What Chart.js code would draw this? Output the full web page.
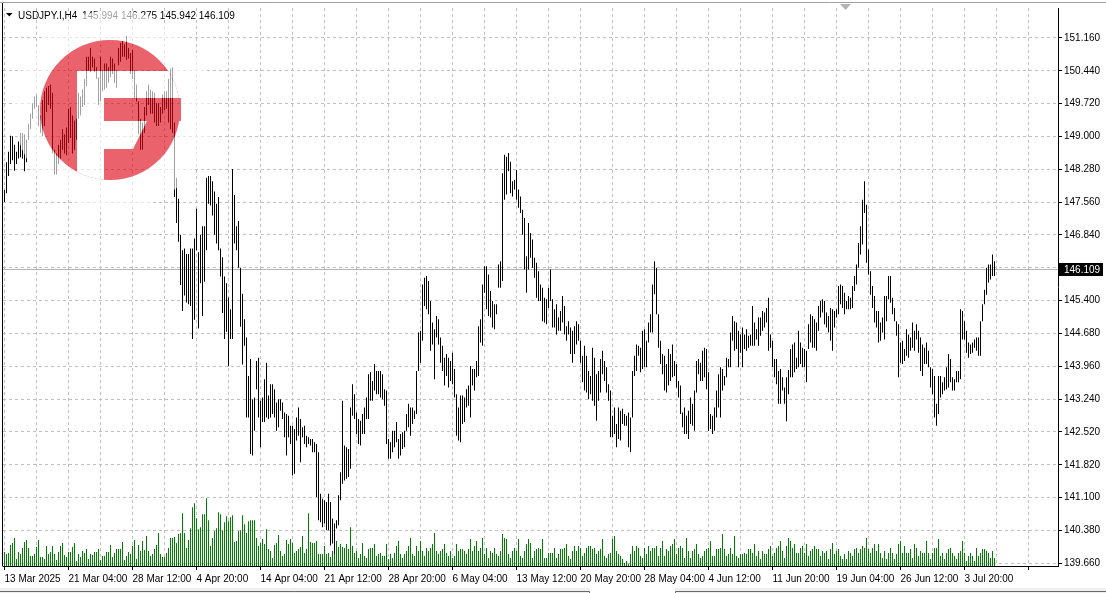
<!DOCTYPE html>
<html>
<head>
<meta charset="utf-8">
<title>USDJPY.I,H4</title>
<script src="https://cdn.jsdelivr.net/npm/chart.js@4.4.1/dist/chart.umd.min.js"></script>
<style>
  html, body { margin: 0; padding: 0; background: #fff; overflow: hidden; }
  #wrap { width: 1106px; height: 593px; }
</style>
</head>
<body>
<div id="wrap"><canvas id="chart" width="1106" height="593"></canvas></div>
<script>
/* ─── USDJPY.I H4 — bar chart with tick volumes (MT4 style) ─── */

// ─── Data ───
const symbol = 'USDJPY.I,H4';
const lastBar = { open: 145.994, high: 146.275, low: 145.942, close: 146.109 };

const xTickLabels = ['13 Mar 2025', '21 Mar 04:00', '28 Mar 12:00', '4 Apr 20:00', '14 Apr 04:00', '21 Apr 12:00',
  '28 Apr 20:00', '6 May 04:00', '13 May 12:00', '20 May 20:00', '28 May 04:00', '4 Jun 12:00',
  '11 Jun 20:00', '19 Jun 04:00', '26 Jun 12:00', '3 Jul 20:00'];
const barsPerLabel = 32;
const barsPerGrid = 16;

const yTickStart = 139.66;
const yTickStep = 0.71875;
const yTickLabels = ['139.660', '140.380', '141.100', '141.820', '142.520', '143.240', '143.960', '144.680',
  '145.400', '', '146.840', '147.560', '148.280', '149.000', '149.720', '150.440', '151.160'];

const highs = [
  147.83,148.44,148.67,149.02,149.01,148.82,148.67,148.89,149.08,149.08,
  149.05,148.93,149.27,149.50,149.73,149.88,149.92,149.69,149.46,149.80,
  149.99,150.07,150.11,150.14,149.96,148.71,148.63,148.82,148.93,149.16,
  149.05,149.20,149.61,149.65,149.46,149.35,149.39,149.96,149.88,150.03,
  150.26,150.75,150.75,150.94,150.75,150.71,150.52,150.30,150.75,150.45,
  150.60,150.60,150.52,150.75,150.71,150.60,150.45,150.94,151.05,151.09,
  151.02,151.21,150.94,150.83,150.90,150.45,150.14,149.77,149.39,149.31,
  149.65,149.99,150.14,150.03,149.99,149.96,149.73,149.73,149.65,149.92,
  149.99,149.99,150.26,150.49,150.52,149.31,148.10,147.64,146.85,146.51,
  146.55,146.43,146.43,146.55,146.55,146.77,147.42,146.47,146.85,147.04,
  147.04,148.10,148.14,148.14,148.02,147.80,147.53,147.68,146.55,146.36,
  145.94,145.79,145.48,145.22,148.29,147.72,147.04,147.15,146.13,145.56,
  145.00,144.60,143.76,144.13,143.25,143.29,144.09,144.16,143.22,143.29,
  143.69,144.05,143.33,143.58,143.58,143.47,143.18,143.25,143.25,143.18,
  142.96,142.93,142.89,142.67,142.67,142.60,142.85,143.07,142.82,142.64,
  142.67,142.45,142.42,142.38,142.38,142.31,142.27,142.09,141.18,141.07,
  141.04,141.00,141.18,141.00,140.64,140.53,140.60,141.15,141.65,143.22,
  142.24,142.20,142.16,143.07,143.58,143.36,142.96,142.82,142.78,142.93,
  143.07,143.29,143.80,143.84,143.65,144.02,143.87,143.87,143.87,143.80,
  143.47,143.44,142.38,142.31,142.56,142.56,142.75,142.38,142.49,142.53,
  142.56,142.93,143.15,143.07,143.07,143.00,143.87,144.71,144.75,145.76,
  145.91,145.95,145.84,145.40,144.93,144.78,145.07,145.00,144.60,144.42,
  144.16,144.24,144.16,144.09,144.27,143.91,143.36,143.07,143.33,143.33,
  143.29,143.47,143.55,143.98,143.91,143.91,144.09,144.85,145.00,145.76,
  146.16,146.16,145.98,145.62,145.40,145.33,145.33,146.20,146.27,148.20,
  148.60,148.56,148.64,148.45,148.02,148.05,148.27,147.84,147.69,147.40,
  147.22,146.38,147.11,146.89,146.75,146.35,146.24,146.05,145.76,145.69,
  145.47,145.44,145.69,146.09,145.44,145.22,145.33,145.04,145.18,145.51,
  145.29,144.85,144.96,144.82,144.75,144.85,144.96,144.89,144.53,144.20,
  144.42,144.20,143.87,143.76,144.38,144.16,143.80,143.87,144.13,144.31,
  144.09,143.95,143.58,143.44,142.89,143.07,142.71,143.07,143.00,143.04,
  142.93,142.89,142.96,142.85,143.87,144.20,144.45,144.42,144.38,144.75,
  144.78,144.53,144.93,145.11,145.76,146.27,146.13,145.11,144.53,144.24,
  144.20,144.02,144.35,144.24,144.45,144.09,144.02,143.65,143.55,142.96,
  143.07,142.89,143.00,143.29,143.15,143.44,144.09,144.13,144.05,144.31,
  144.38,144.35,143.84,142.93,142.89,143.07,143.44,143.80,143.95,143.91,
  143.76,144.16,144.13,144.71,145.07,144.96,144.93,144.75,144.67,144.82,
  144.67,144.78,144.64,144.67,145.29,144.93,144.78,145.04,145.04,145.18,
  145.15,145.25,145.47,144.67,144.53,144.13,144.13,143.87,143.91,143.73,
  143.51,143.73,143.89,144.35,144.45,144.49,144.16,144.75,144.49,144.38,
  144.35,144.31,144.89,145.11,145.07,145.00,144.93,145.29,145.40,145.44,
  145.40,145.15,145.07,145.25,145.22,145.18,145.22,145.73,145.76,145.73,
  145.58,145.40,145.51,145.47,145.73,145.95,146.20,146.67,147.04,147.62,
  148.02,147.51,146.53,146.05,145.73,145.51,145.18,145.18,144.93,145.04,
  145.51,145.51,145.95,145.95,145.47,145.25,144.96,144.89,144.49,144.53,
  144.35,144.78,144.67,144.60,144.93,144.75,144.89,144.75,144.60,144.45,
  144.38,144.49,144.31,143.95,143.91,143.76,143.15,143.76,143.76,143.62,
  143.73,143.95,144.24,144.13,143.73,143.69,143.87,143.87,145.22,145.18,
  144.96,144.75,144.49,144.45,144.49,144.56,144.60,144.60,144.96,145.33,
  145.65,146.13,146.20,146.20,146.42,146.27
];

const lows = [
  147.57,147.76,148.14,148.40,148.48,148.25,148.40,148.52,148.55,148.52,
  148.24,148.44,148.93,149.16,149.39,149.61,149.65,149.23,149.08,149.01,
  149.23,149.54,149.69,149.61,148.63,148.17,148.17,148.40,148.52,148.71,
  148.63,148.59,148.86,148.97,148.63,148.71,148.93,149.39,149.46,149.65,
  149.69,150.11,150.45,150.41,150.52,150.41,150.26,149.69,149.77,149.99,
  150.03,150.07,150.18,150.30,150.37,150.18,150.07,150.56,150.64,150.75,
  150.75,150.68,150.71,150.37,150.26,149.84,149.77,149.05,148.71,148.71,
  149.08,149.46,149.69,149.50,149.50,149.31,149.23,149.23,149.31,149.50,
  149.58,149.61,149.31,149.16,149.08,147.68,147.11,146.70,145.75,145.18,
  145.52,145.37,145.33,145.29,144.57,144.99,146.51,144.80,145.79,145.07,
  145.82,146.51,147.53,147.49,147.27,146.85,146.66,146.51,145.94,145.14,
  144.57,144.73,143.97,144.57,144.57,146.66,146.51,146.13,144.84,144.01,
  144.42,142.85,142.85,142.05,142.02,142.56,143.47,142.85,142.20,142.75,
  142.75,142.85,142.82,142.85,142.93,142.85,142.56,142.64,143.00,142.82,
  142.42,142.02,142.42,142.27,141.58,141.62,142.35,142.45,141.87,142.42,
  142.27,142.20,142.27,142.24,142.09,142.09,141.11,140.60,140.56,140.45,
  140.53,140.38,140.38,140.05,140.09,139.87,140.42,140.49,141.04,141.40,
  141.47,141.51,141.55,141.73,142.89,142.82,142.49,142.27,142.24,142.49,
  142.49,142.82,142.82,143.22,143.22,143.44,143.36,143.36,143.29,143.25,
  143.11,142.27,141.95,141.95,142.09,142.20,142.31,141.95,142.02,142.16,
  142.20,142.56,142.64,142.45,142.71,142.82,142.93,143.87,144.05,144.53,
  145.29,145.22,145.11,144.31,144.45,143.69,144.60,144.45,144.05,143.87,
  143.55,143.76,143.51,143.65,143.58,143.29,142.45,142.35,142.31,142.71,
  142.75,143.07,143.11,142.85,143.55,143.44,143.73,143.76,144.49,144.42,
  145.58,145.22,145.07,145.04,144.82,144.78,145.11,145.69,145.69,145.84,
  147.62,147.73,148.24,147.76,147.69,147.84,147.62,147.44,147.33,146.85,
  146.09,145.58,146.09,146.35,146.13,145.91,145.47,145.40,145.40,144.96,
  144.93,144.89,145.25,145.40,144.82,144.82,144.67,144.75,144.75,144.93,
  144.67,144.53,144.67,144.24,144.05,144.24,144.45,144.53,144.05,143.62,
  143.44,143.40,143.25,143.36,143.22,143.11,142.78,143.22,143.40,143.80,
  143.65,143.40,143.22,142.42,142.42,142.49,142.20,142.38,142.35,142.71,
  142.67,142.67,142.20,142.09,142.85,143.76,143.87,144.20,143.84,143.91,
  143.95,143.95,144.49,144.71,144.71,145.55,145.11,144.38,144.02,143.80,
  143.44,143.40,143.55,143.65,143.73,143.76,143.51,143.29,142.93,142.64,
  142.49,142.49,142.38,142.71,142.67,142.56,143.40,143.80,143.65,143.65,
  143.73,143.47,142.56,142.60,142.49,142.56,142.85,143.07,142.85,143.44,
  143.55,143.73,143.95,143.95,144.53,144.31,144.35,143.95,144.27,143.95,
  144.35,144.31,144.38,144.42,144.42,144.42,144.56,144.42,144.64,144.75,
  144.82,144.93,144.31,144.38,143.95,143.73,143.58,143.15,143.15,143.44,
  143.15,142.77,143.36,143.73,143.73,143.84,143.91,143.95,144.02,143.95,
  143.95,143.62,144.35,144.49,144.38,144.38,144.31,144.75,145.04,145.15,
  144.89,144.82,144.71,144.53,144.31,144.82,145.04,145.11,145.33,145.25,
  145.11,145.22,145.22,145.22,145.25,145.62,145.76,146.13,146.42,146.64,
  147.33,146.24,145.98,145.54,145.25,144.93,144.82,144.49,144.53,144.71,
  144.56,144.96,145.44,145.36,145.11,144.96,144.64,143.73,144.05,144.02,
  144.09,144.20,144.16,144.31,144.38,144.31,144.56,144.27,143.87,143.76,
  144.02,144.02,143.95,143.51,143.36,142.85,142.67,142.93,143.29,143.36,
  143.44,143.47,143.51,143.62,143.44,143.44,143.62,143.62,143.69,144.56,
  144.56,144.27,144.16,144.24,144.27,144.38,144.31,144.20,144.20,144.96,
  145.33,145.54,145.80,145.87,145.95,145.95
];

// tick volumes, hundreds
const volumes = [
  14,12,13,21,23,28,7,14,12,18, 24,26,18,10,10,12,19,26,9,9,
  7,20,12,14,20,12,6,14,20,23, 11,9,14,14,19,23,5,12,9,15,
  13,17,7,12,11,14,14,17,6,10, 10,14,14,21,9,13,17,17,17,24,
  6,10,14,12,20,26,7,21,15,25, 16,30,15,10,12,17,21,33,12,9,
  9,13,18,28,28,29,23,32,33,53, 33,18,26,38,59,63,48,37,39,52,
  52,68,46,20,28,35,38,54,52,36, 44,50,45,49,51,24,25,35,36,51,
  42,33,45,46,46,46,28,20,23,27, 22,37,17,15,8,21,23,31,15,10,
  12,26,22,27,23,13,15,17,19,30, 13,17,53,24,23,23,25,12,12,12,
  20,12,13,9,15,21,25,19,22,19, 18,22,17,39,
  20,13,15,8,12,23,10,8,17,18, 18,22,10,12,13,10,10,22,7,12,
  8,13,20,25,12,8,12,15,20,28, 12,10,20,15,25,15,10,18,15,18,
  22,33,15,12,15,17,22,13,10,15, 8,10,22,15,17,17,15,12,17,27,
  15,20,25,15,18,28,12,18,8,15, 13,18,12,10,15,
  32,28,27,12,8,15,18,15,27,10, 8,15,22,27,23,8,15,17,18,17,
  27,8,8,13,13,13,18,8,12,17, 17,18,22,10,7,15,20,15,20,18,
  10,13,18,20,20,17,18,12,15,17, 27,10,8,12,13,27,30,15,12,10,
  7,3,5,2,12,20,15,20,18,10, 8,18,12,20,15,18,18,20,10,18,
  25,10,17,15,20,22,27,12,18,20, 18,8,28,15,8,15,17,22,12,8,
  10,15,17,18,25,10,10,17,17,18, 32,17,10,12,18,12,30,10,8,12,
  12,13,12,17,
  17,13,22,10,15,7,15,12,12,17, 20,10,13,18,20,25,15,8,20,28,
  25,18,22,13,13,18,20,13,22,10, 15,17,20,17,17,10,15,13,15,7,
  17,23,12,15,17,10,7,12,7,15, 13,10,17,18,13,17,20,18,28,17,
  13,18,22,15,22,13,8,15,7,13, 18,13,7,12,22,25,13,20,13,13,
  17,8,22,18,10,15,13,13,25,13, 7,13,18,18,27,10,13,7,13,17,
  18,13,10,7,13,15,25,13,5,10, 13,10,5,18,10,13,17,17,15,13,
  8,15,8
];

// ─── Fonts / defaults ───
Chart.defaults.font.family = "'Liberation Sans', Arial, sans-serif";
Chart.defaults.font.size = 10;
Chart.defaults.color = '#000';

// ─── Logo watermark (drawn over the plot, semi-transparent) ───
function drawWatermark(ctx) {
  const off = document.createElement('canvas');
  off.width = 240;
  off.height = 230;
  const g = off.getContext('2d');
  g.fillStyle = '#fff';
  g.beginPath(); g.arc(114, 110, 100, 0, Math.PI * 2); g.fill();
  g.save();
  g.beginPath(); g.arc(110, 110, 70, 0, Math.PI * 2); g.clip();
  g.fillStyle = 'rgb(222,8,24)';
  g.fillRect(30, 30, 170, 170);
  g.fillStyle = '#fff';
  g.fillRect(77, 71, 27, 120);
  g.fillRect(77, 71, 120, 27);
  g.beginPath();
  g.moveTo(104, 121); g.lineTo(147, 121); g.lineTo(133, 149); g.lineTo(104, 149);
  g.closePath(); g.fill();
  g.restore();
  g.fillStyle = 'rgb(222,8,24)';
  g.fillRect(104, 98, 77, 23);
  ctx.save();
  ctx.globalAlpha = 0.63;
  ctx.drawImage(off, 0, 0);
  ctx.restore();
}

// ─── Terminal chrome: frame, header, price line + label ───
const mtOverlay = {
  id: 'mtOverlay',
  beforeDraw(chart) {
    const { ctx, width, height } = chart;
    ctx.save();
    ctx.fillStyle = '#fff';
    ctx.fillRect(0, 0, width, height);
    ctx.restore();
  },
  beforeDatasetsDraw(chart) {
    const { ctx, chartArea: a, scales: { y } } = chart;
    const py = Math.round(y.getPixelForValue(lastBar.close)) + 0.5;
    ctx.save();
    ctx.strokeStyle = '#b4b4b4';
    ctx.lineWidth = 1;
    ctx.beginPath(); ctx.moveTo(a.left, py); ctx.lineTo(a.right, py); ctx.stroke();
    ctx.restore();
  },
  afterDraw(chart) {
    const { ctx, chartArea: a, scales: { y }, width } = chart;
    ctx.save();
    // window edge + left frame
    ctx.strokeStyle = '#a0a0a0';
    ctx.beginPath(); ctx.moveTo(0, 2.5); ctx.lineTo(width, 2.5); ctx.stroke();
    ctx.strokeStyle = '#000';
    ctx.beginPath(); ctx.moveTo(2.5, 3); ctx.lineTo(2.5, a.bottom + 0.5); ctx.stroke();

    // chart shift marker
    ctx.fillStyle = '#b4b4b4';
    ctx.beginPath(); ctx.moveTo(840, 4); ctx.lineTo(851, 4); ctx.lineTo(845.5, 10); ctx.closePath(); ctx.fill();

    // bottom tab strip
    ctx.fillStyle = '#f0f0f0';
    ctx.fillRect(0, 588, width, 5);
    ctx.strokeStyle = '#696969';
    ctx.beginPath();
    ctx.moveTo(0, 591.5); ctx.lineTo(589.5, 591.5); ctx.lineTo(589.5, 593);
    ctx.moveTo(675.5, 593); ctx.lineTo(675.5, 591.5); ctx.lineTo(width, 591.5);
    ctx.stroke();
    ctx.fillStyle = '#fff';
    ctx.fillRect(590, 588, 85, 5);

    // header
    ctx.fillStyle = '#000';
    ctx.beginPath(); ctx.moveTo(6, 13); ctx.lineTo(12.5, 13); ctx.lineTo(9.25, 16.5); ctx.closePath(); ctx.fill();
    ctx.font = "10px 'Liberation Sans', Arial, sans-serif";
    ctx.textBaseline = 'alphabetic';
    ctx.fillText(symbol, 18, 18.5);
    const f = v => v.toFixed(3);
    ctx.fillText([lastBar.open, lastBar.high, lastBar.low, lastBar.close].map(f).join(' '), 82, 18.5);

    // current price label
    const py = Math.round(y.getPixelForValue(lastBar.close));
    ctx.fillStyle = '#000';
    ctx.fillRect(a.right + 1, py - 6, 44, 13);
    ctx.fillStyle = '#fff';
    ctx.textBaseline = 'middle';
    ctx.fillText(f(lastBar.close), a.right + 6, py + 1);
    ctx.restore();

    drawWatermark(ctx);
  }
};

// ─── Chart ───
const priceData = highs.map((h, i) => ({ x: i, y: [lows[i], h] }));
const volumeData = volumes.map((v, i) => ({ x: i, y: v }));

new Chart(document.getElementById('chart'), {
  type: 'bar',
  data: {
    datasets: [
      { label: symbol, data: priceData, backgroundColor: '#000', maxBarThickness: 1, inflateAmount: 0,
        grouped: false, yAxisID: 'y', order: 0 },
      { label: 'Volumes', data: volumeData, backgroundColor: '#008000', maxBarThickness: 1, inflateAmount: 0,
        grouped: false, yAxisID: 'yv', order: 1 }
    ]
  },
  options: {
    responsive: false,
    animation: false,
    devicePixelRatio: 1,
    events: [],
    layout: { padding: { left: 3, top: 6, right: 0, bottom: 0 } },
    plugins: { legend: { display: false }, tooltip: { enabled: false } },
    scales: {
      x: {
        type: 'linear', min: -0.75, max: 526.75, offset: false,
        afterBuildTicks: s => {
          s.ticks = [];
          for (let v = 0; v <= s.max; v += barsPerGrid) s.ticks.push({ value: v });
        },
        afterFit: s => { s.height = 27; },
        grid: {
          color: '#c0c0c0', offset: false, tickLength: 4,
          tickColor: c => (c.tick && c.tick.value % barsPerLabel === 0 ? '#000' : 'rgba(0,0,0,0)')
        },
        border: { color: '#000', dash: [3, 3] },
        ticks: {
          autoSkip: false, maxRotation: 0, minRotation: 0, align: 'start', padding: 3,
          callback: v => (v % barsPerLabel === 0 ? (xTickLabels[v / barsPerLabel] || '') : '')
        }
      },
      y: {
        position: 'right', min: 139.60, max: 151.815, beginAtZero: false,
        afterBuildTicks: s => { s.ticks = yTickLabels.map((_, k) => ({ value: yTickStart + k * yTickStep })); },
        afterFit: s => { s.width = 48; },
        grid: { color: '#c0c0c0', tickLength: 4, tickColor: '#000' },
        border: { color: '#000', dash: [3, 3] },
        ticks: { autoSkip: false, padding: 2, callback: (v, i) => yTickLabels[i] }
      },
      yv: { display: false, min: 0, max: 560 }
    }
  },
  plugins: [mtOverlay]
});
</script>
</body>
</html>
